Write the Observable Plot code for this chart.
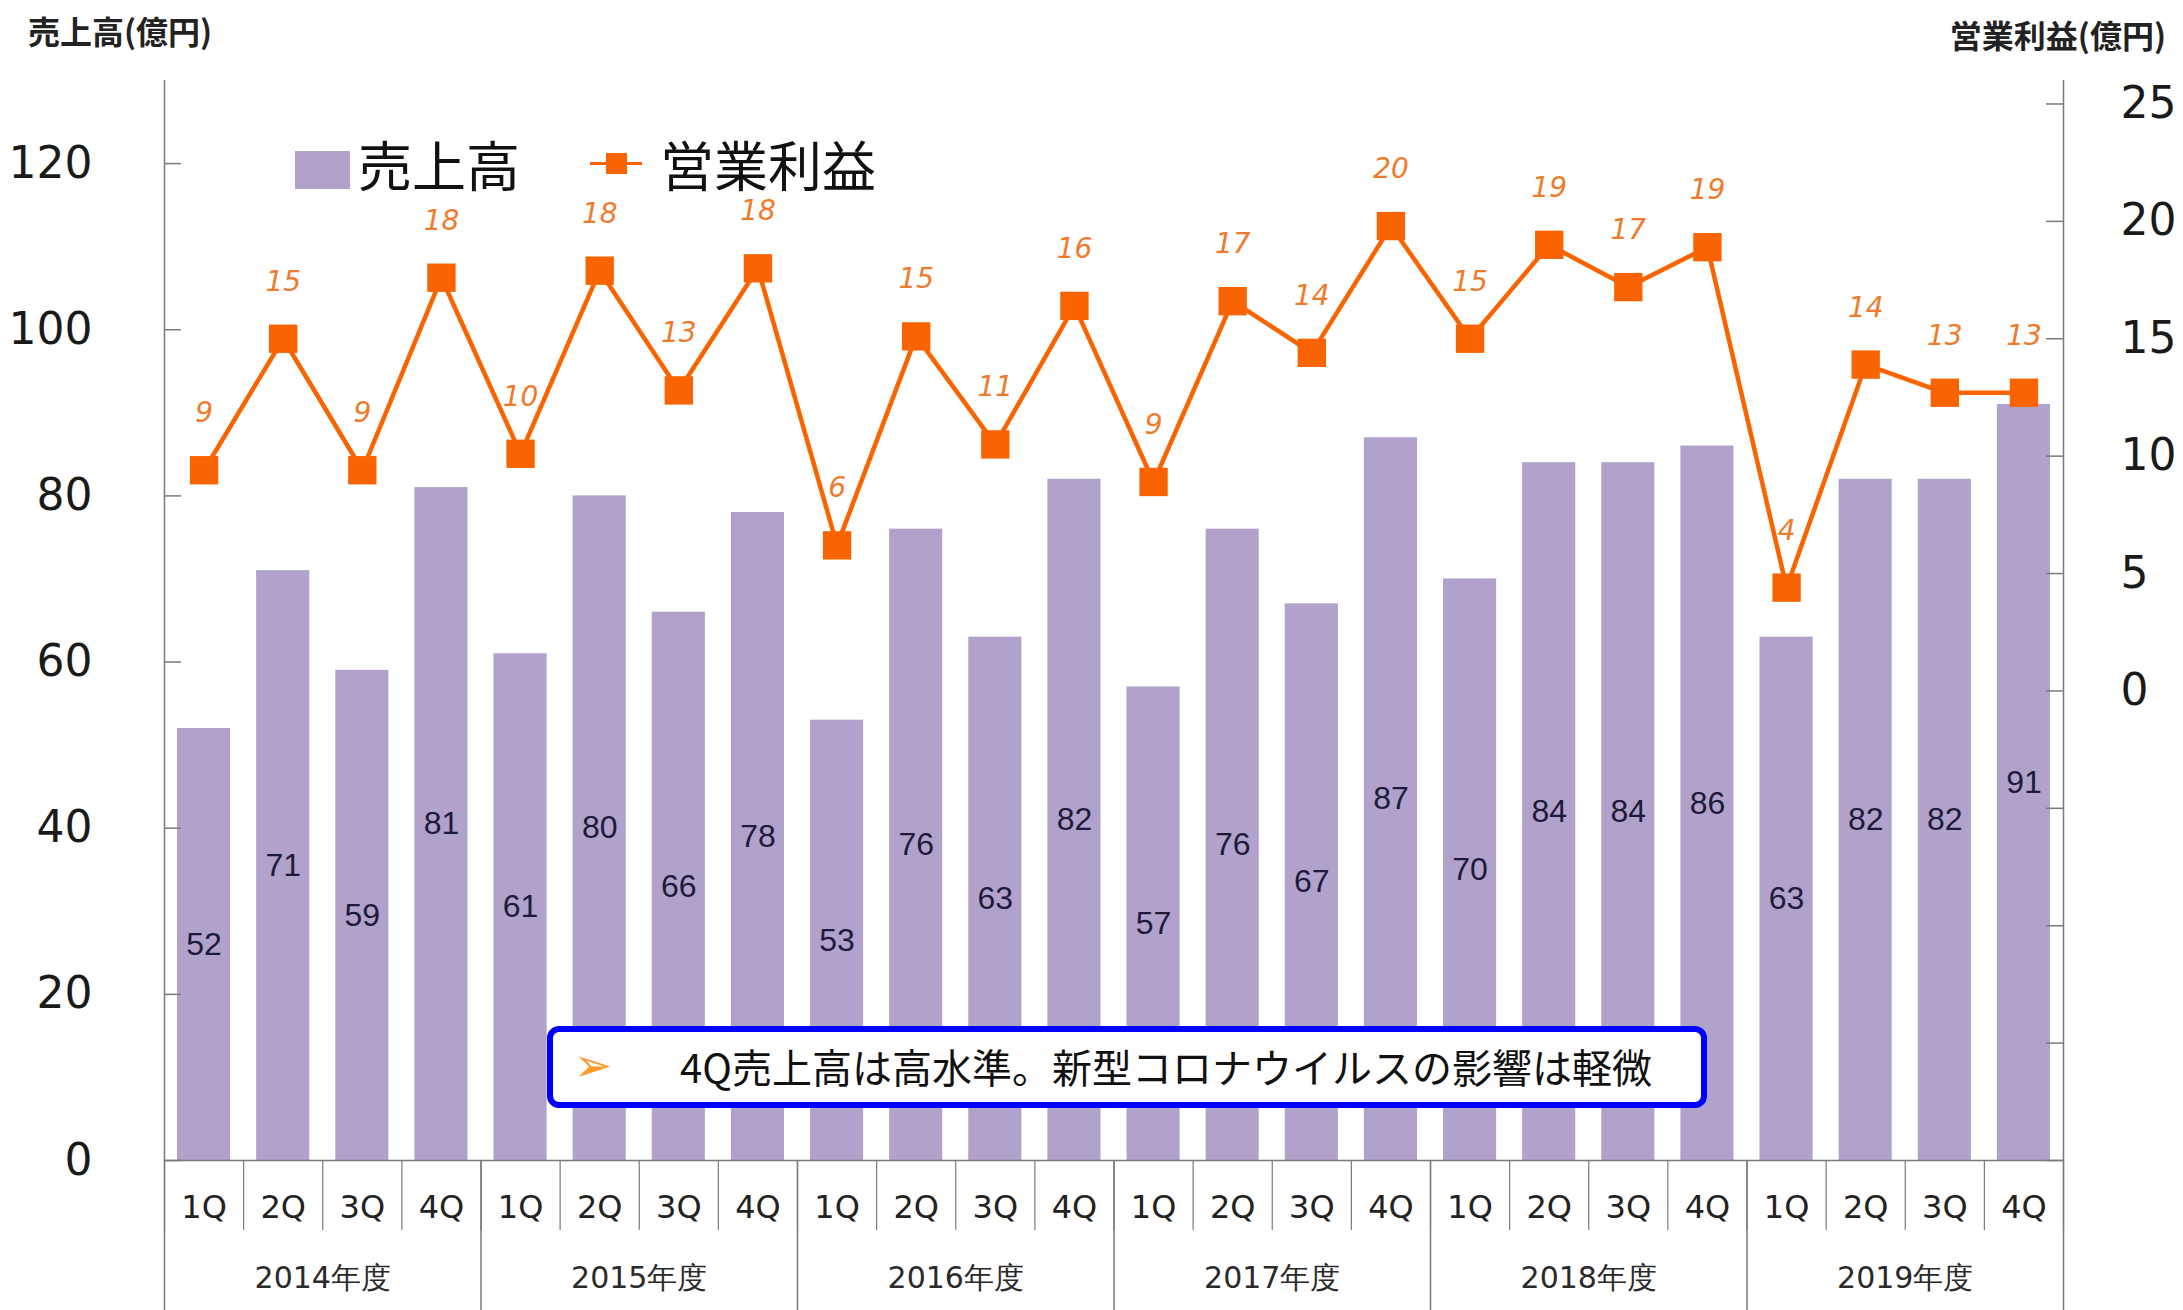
<!DOCTYPE html>
<html><head><meta charset="utf-8">
<script src="https://cdn.jsdelivr.net/npm/d3@7"></script>
<script src="https://cdn.jsdelivr.net/npm/@observablehq/plot@0.6"></script>
<style>
html,body{margin:0;padding:0;background:#fff;}
#wrap{position:relative;width:2183px;height:1310px;overflow:hidden;background:#fff;}
.ov{position:absolute;white-space:nowrap;font-family:"Noto Sans CJK JP",sans-serif;line-height:1;}
</style></head><body>
<div id="wrap"></div>
<script>
// ---- data ----
const years = ["2014年度","2015年度","2016年度","2017年度","2018年度","2019年度"];
const quarters = ["1Q","2Q","3Q","4Q"];
const sales = [52,71,59,81,61,80,66,78,53,76,63,82,57,76,67,87,70,84,84,86,63,82,82,91];
const operatingProfit = [9.4,15.0,9.4,17.6,10.1,17.9,12.8,18.0,6.2,15.1,10.5,16.4,8.9,16.6,14.4,19.8,15.0,19.0,17.2,18.9,4.4,13.9,12.7,12.7];
const salesTicks = [0,20,40,60,80,100,120];
const profitTicks = [-20,-15,-10,-5,0,5,10,15,20,25];
const salesDomain = [0,130];
const profitDomain = [-20,26];
const salesTitle = "売上高(億円)";
const profitTitle = "営業利益(億円)";
const legendSales = "売上高";
const legendProfit = "営業利益";
const note = "4Q売上高は高水準。新型コロナウイルスの影響は軽微";

// map profit axis onto the sales axis (dual axis)
const k = (salesDomain[1]-salesDomain[0])/(profitDomain[1]-profitDomain[0]);
const toSales = p => (p - profitDomain[0]) * k + salesDomain[0];
const fromSales = v => (v - salesDomain[0]) / k + profitDomain[0];

const data = sales.map((s,i)=>({i, quarter: quarters[i%4], year: years[Math.floor(i/4)], sales: s, profit: operatingProfit[i]}));
const mid = d => d.i + 0.5;
const nQ = data.length;

const BAR = "#b0a2cb", ORANGE = "#fa6400", GRAY = "#7a7a7a";

const chart = Plot.plot({
  width: 2183, height: 1310,
  marginTop: 80, marginBottom: 150, marginLeft: 164, marginRight: 120,
  style: {background: "transparent", fontFamily: "DejaVu Sans", color: "#1a1a1a"},
  x: {type: "linear", domain: [0, nQ], label: null},
  y: {domain: salesDomain, label: null},
  marks: [
    Plot.rectY(data, {x1: d => d.i, x2: d => d.i + 1, y: "sales", insetLeft: 13, insetRight: 13, fill: BAR}),
    Plot.ruleY([0], {stroke: GRAY, strokeWidth: 1.5}),
    Plot.ruleX([0, nQ], {stroke: GRAY, strokeWidth: 1.5}),
    // x separators
    Plot.axisX(d3.range(nQ + 1), {tickSize: 70, tickFormat: () => "", label: null, stroke: GRAY, strokeWidth: 1.2}),
    Plot.axisX(d3.range(0, nQ + 1, 4), {tickSize: 150, tickFormat: () => "", label: null, stroke: GRAY, strokeWidth: 1.5}),
    // quarter and year labels
    Plot.axisX(d3.range(nQ).map(i => i + 0.5), {tickSize: 0, tickPadding: 35, fontSize: 32, fill: "#222", label: null,
      tickFormat: v => quarters[Math.floor(v) % 4]}),
    Plot.axisX(d3.range(years.length).map(j => j * 4 + 2), {tickSize: 0, tickPadding: 106, fontSize: 30, fill: "#2a2a2a", label: null,
      tickFormat: v => years[Math.round((v - 2) / 4)]}),
    // left axis
    Plot.axisY(salesTicks, {anchor: "left", tickSize: -17, tickPadding: 89, fontSize: 44, stroke: GRAY, fill: "#1a1a1a", strokeWidth: 1.5, label: null}),
    // right axis (profit)
    Plot.axisY(profitTicks.map(toSales), {anchor: "right", tickSize: -18, tickPadding: 75, fontSize: 44, stroke: GRAY, fill: "#1a1a1a", strokeWidth: 1.5, label: null,
      tickFormat: v => { const p = Math.round(fromSales(v)); return p >= 0 ? String(p) : ""; }}),
    // bar labels
    Plot.text(data, {x: mid, y: d => d.sales / 2, text: d => String(d.sales), fontSize: 32, fontFamily: "Liberation Sans, Arial, sans-serif", fill: "#1e1b3a"}),
    // profit line
    Plot.line(data, {x: mid, y: d => toSales(d.profit), stroke: ORANGE, strokeWidth: 4.5}),
    Plot.dot(data, {x: mid, y: d => toSales(d.profit), symbol: "square", r: 16, fill: ORANGE, stroke: "none"}),
    Plot.text(data, {x: mid, y: d => toSales(d.profit), dy: -57, text: d => String(Math.round(d.profit)), fontSize: 28, fontStyle: "italic", fontFamily: "DejaVu Sans", fill: "#f07a2c"})
  ]
});

const wrap = document.getElementById("wrap");
wrap.appendChild(chart);

function ov(html, css) {
  const d = document.createElement("div");
  d.className = "ov";
  d.innerHTML = html;
  Object.assign(d.style, css);
  wrap.appendChild(d);
  return d;
}
// axis titles
ov(salesTitle, {left: "28px", top: "14px", fontSize: "32px", fontWeight: "bold", color: "#222"});
ov(profitTitle, {right: "17px", top: "18px", fontSize: "32px", fontWeight: "bold", color: "#222"});
// legend
ov("", {left: "295px", top: "151px", width: "55px", height: "38px", background: BAR});
ov(legendSales, {left: "358px", top: "137px", fontSize: "54px", color: "#111"});
ov("", {left: "590px", top: "162px", width: "52px", height: "3px", background: ORANGE});
ov("", {left: "606px", top: "153px", width: "21px", height: "21px", background: ORANGE});
ov(legendProfit, {left: "660px", top: "137px", fontSize: "54px", color: "#111"});
// annotation box
const box = ov("", {left: "547px", top: "1026px", width: "1160px", height: "82px", boxSizing: "border-box",
  border: "6px solid #0000ff", borderRadius: "12px", background: "#fff"});
ov("➢", {left: "574px", top: "1042px", fontSize: "46px", color: "#ff9a2e", fontFamily: "DejaVu Sans"});
ov(note, {left: "680px", top: "1046px", fontSize: "40px", color: "#111"});
</script>
</body></html>
